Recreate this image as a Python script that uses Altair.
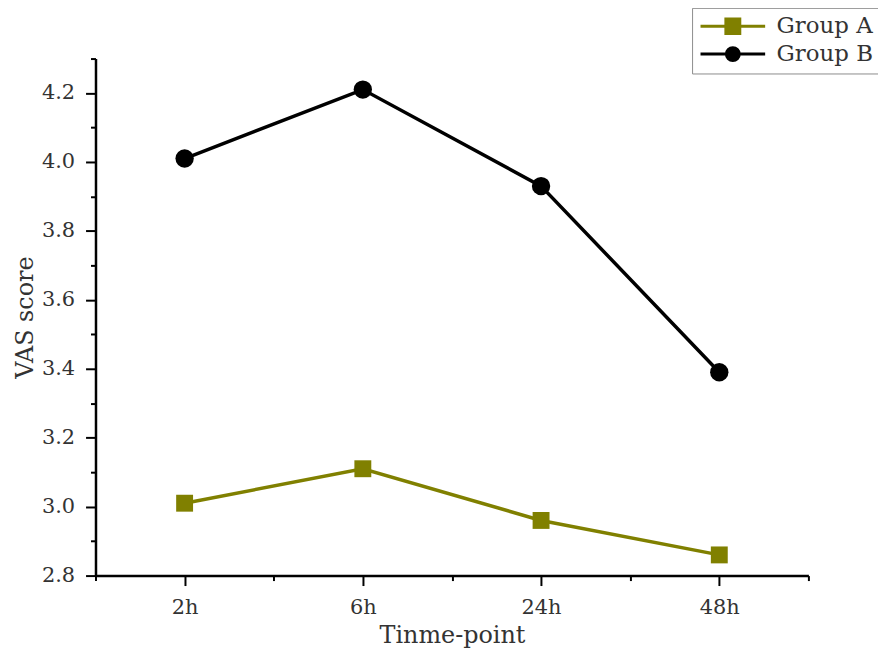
import altair as alt
import pandas as pd

timepoints = ["2h", "6h", "24h", "48h"]
group_a = [3.01, 3.11, 2.96, 2.86]
group_b = [4.01, 4.21, 3.93, 3.39]
groups = ["Group A", "Group B"]
colors = ["#808000", "#000000"]

rows = []
for i, t in enumerate(timepoints):
    rows.append({"idx": i + 1, "time": t, "group": groups[0], "score": group_a[i]})
    rows.append({"idx": i + 1, "time": t, "group": groups[1], "score": group_b[i]})
df = pd.DataFrame(rows)

FONT = "DejaVu Serif"
TXT = "#333333"
label_arr = "[" + ",".join(f"'{t}'" for t in timepoints) + "]"
x_vals = [0.5 + 0.5 * k for k in range(9)]
y_vals = [round(2.8 + 0.1 * k, 1) for k in range(16)]

x_axis = alt.Axis(
    values=x_vals,
    labelExpr=f"datum.value % 1 === 0 ? {label_arr}[datum.value - 1] : ''",
    tickSize={"condition": {"test": "datum.value % 1 === 0", "value": 10}, "value": 5},
    labelPadding=11,
    title="Tinme-point",
    titlePadding=6,
    grid=False,
)
y_axis = alt.Axis(
    values=y_vals,
    labelExpr="round(datum.value * 10) % 2 === 0 ? format(datum.value, '.1f') : ''",
    tickSize={"condition": {"test": "round(datum.value * 10) % 2 === 0", "value": 10}, "value": 5},
    labelPadding=11,
    title="VAS score",
    titlePadding=4,
    grid=False,
)

x_enc = alt.X("idx:Q", scale=alt.Scale(domain=[0.5, 4.5], nice=False, zero=False), axis=x_axis)
y_enc = alt.Y("score:Q", scale=alt.Scale(domain=[2.8, 4.3], nice=False, zero=False), axis=y_axis)

# legend symbols: line segment + marker; symbol box is 20px (1 unit = 10px),
# the line runs to the right beyond the box so the rows stay compact
sq = "M-1,0L5.5,0M1.55,-0.72L2.95,-0.72L2.95,0.72L1.55,0.72Z"
ci = "M-1,0L5.5,0M1.6,0A0.65,0.65,0,1,0,2.9,0A0.65,0.65,0,1,0,1.6,0Z"


def make_legend():
    return alt.Legend(
        orient="none",
        legendX=600,
        legendY=-51,
        title=None,
        symbolSize=400,
        strokeColor="#8c8c8c",
        padding=7,
        labelFont=FONT,
        labelFontSize=23,
        labelColor=TXT,
        rowPadding=2,
        labelOffset=55,
        symbolStrokeWidth=3,
        symbolOpacity=1,
    )


# invisible layer whose only job is to provide the legend (line + marker symbols)
legend_layer = alt.Chart(df).mark_point(
    filled=True, opacity=0, strokeWidth=3
).encode(
    x=x_enc,
    y=y_enc,
    color=alt.Color("group:N", scale=alt.Scale(domain=groups, range=colors), legend=make_legend()),
    stroke=alt.Stroke("group:N", scale=alt.Scale(domain=groups, range=colors), legend=make_legend()),
    shape=alt.Shape("group:N", scale=alt.Scale(domain=groups, range=[sq, ci]), legend=make_legend()),
)

layers = [legend_layer]
marker_shapes = ["square", "circle"]
marker_sizes = [289, 340]
for g, c, shp, sz in zip(groups, colors, marker_shapes, marker_sizes):
    base = alt.Chart(df).transform_filter(alt.datum.group == g)
    layers.append(base.mark_line(strokeWidth=3.5, color=c).encode(x=x_enc, y=y_enc))
    layers.append(
        base.mark_point(filled=True, opacity=1, shape=shp, size=sz, color=c).encode(x=x_enc, y=y_enc)
    )

chart = (
    alt.layer(*layers)
    .properties(
        width=717,
        height=520,
        autosize=alt.AutoSizeParams(type="none"),
        padding={"left": 88, "top": 49, "right": 70, "bottom": 76},
    )
    .configure_view(stroke=None)
    .configure_axis(
        domainColor="#000000",
        domainWidth=2.5,
        tickColor="#000000",
        tickWidth=2,
        labelFont=FONT,
        labelFontSize=21,
        labelColor=TXT,
        titleFont=FONT,
        titleFontSize=24,
        titleFontWeight="normal",
        titleColor=TXT,
    )
)

chart.save("out.html", embed_options={"renderer": "svg", "actions": False})
